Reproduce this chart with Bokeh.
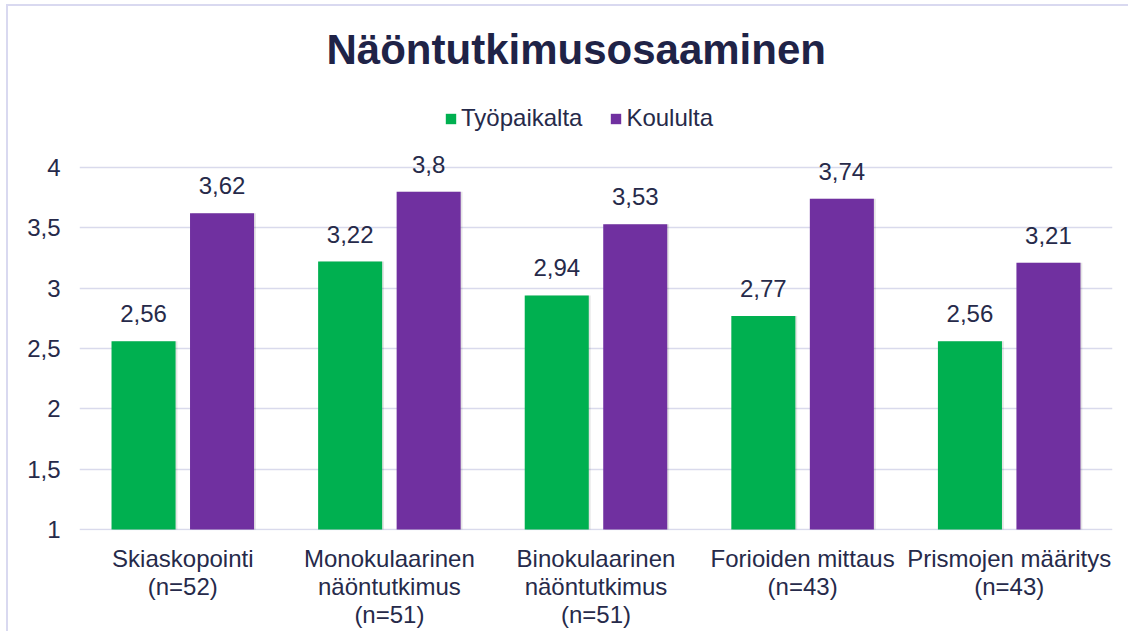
from bokeh.plotting import figure
from bokeh.models import ColumnDataSource, Range1d, FixedTicker, Legend, LegendItem
from bokeh.transform import dodge
from bokeh.core.properties import value
from bokeh.embed import file_html
from bokeh.resources import INLINE

categories = ["Skiaskopointi\n(n=52)", "Monokulaarinen\nnäöntutkimus\n(n=51)",
              "Binokulaarinen\nnäöntutkimus\n(n=51)", "Forioiden mittaus\n(n=43)",
              "Prismojen määritys\n(n=43)"]
tyopaikalta = [2.56, 3.22, 2.94, 2.77, 2.56]
koululta = [3.62, 3.80, 3.53, 3.74, 3.21]
y_ticks = [1, 1.5, 2, 2.5, 3, 3.5, 4]
y_tick_labels = ["1", "1,5", "2", "2,5", "3", "3,5", "4"]
series_names = ["Työpaikalta", "Koululta"]
title_text = "Näöntutkimusosaaminen"

def fmt(v):
    s = f"{v:.2f}".rstrip("0").rstrip(".")
    return s.replace(".", ",")

src = ColumnDataSource(dict(
    cat=categories,
    t=tyopaikalta,
    k=koululta,
    tl=[fmt(v) for v in tyopaikalta],
    kl=[fmt(v) for v in koululta],
    base=[1] * len(categories),
))

FONT = "Liberation Sans"
TXT = "#262A4A"
GREEN = "#00B050"
PURPLE = "#7030A0"
GRID = "#D9DAEC"

# vertical scale: 362 px for the 1..4 span, extra room above for the legend
ppu = 362 / 3
extra_top = 90
y_start = 1 - 1 / ppu
y_end = 4 + extra_top / ppu
fh = round((y_end - y_start) * ppu)

p = figure(x_range=categories, y_range=Range1d(y_start, y_end),
           frame_width=1033, frame_height=fh, output_backend="svg", toolbar_location=None,
           min_border_left=71, min_border_right=16, min_border_top=71, min_border_bottom=100)
p.title.text = title_text
p.title.align = "left"
p.title.text_font = FONT
p.title.text_font_size = "42px"
p.title.text_font_style = "bold"
p.title.text_color = "#1F2347"
p.title.offset = 247
p.title.standoff = 9

p.outline_line_color = None
p.xgrid.grid_line_color = None
p.ygrid.grid_line_color = GRID
p.ygrid.grid_line_width = 1.6

w = 0.31
off = 0.19
sh = 0.009
# soft shadow behind the bars
for col, dx in (("t", -off), ("k", off)):
    p.vbar(x=dodge("cat", dx + sh, range=p.x_range), bottom="base", top=col, width=w,
           source=src, fill_color="#000000", fill_alpha=0.10, line_color=None)
r1 = p.vbar(x=dodge("cat", -off, range=p.x_range), bottom="base", top="t", width=w,
            source=src, fill_color=GREEN, line_color=None)
r2 = p.vbar(x=dodge("cat", off, range=p.x_range), bottom="base", top="k", width=w,
            source=src, fill_color=PURPLE, line_color=None)

for col, lab, dx in (("t", "tl", -off), ("k", "kl", off)):
    p.text(x=dodge("cat", dx, range=p.x_range), y=col, text=lab, source=src,
           text_align="center", text_baseline="bottom", y_offset=-19,
           text_font=value(FONT), text_font_size="24px", text_color=TXT)

legend = Legend(items=[LegendItem(label=series_names[0], renderers=[r1]),
                       LegendItem(label=series_names[1], renderers=[r2])],
                orientation="horizontal", location=(365, 398),
                label_text_font=FONT, label_text_font_size="24px", label_text_color=TXT,
                glyph_width=13, glyph_height=13, label_standoff=4, spacing=27,
                border_line_color=None, background_fill_alpha=0, margin=0, padding=6)
p.add_layout(legend)

p.yaxis.ticker = FixedTicker(ticks=y_ticks)
p.yaxis.major_label_overrides = {t: l for t, l in zip(y_ticks, y_tick_labels)}
for ax in (p.xaxis[0], p.yaxis[0]):
    ax.axis_line_color = None
    ax.major_tick_line_color = None
    ax.minor_tick_line_color = None
    ax.major_label_text_font = FONT
    ax.major_label_text_font_size = "24px"
    ax.major_label_text_color = TXT
    ax.major_label_text_line_height = 1.05
p.yaxis.major_label_standoff = 13
p.xaxis.major_label_standoff = 8

p.styles = {"border-left": "2px solid #D9D9F0", "border-top": "2px solid #D9D9F0",
            "margin-left": "6px", "margin-top": "4px"}

open("out.html", "w").write(file_html(p, INLINE))
